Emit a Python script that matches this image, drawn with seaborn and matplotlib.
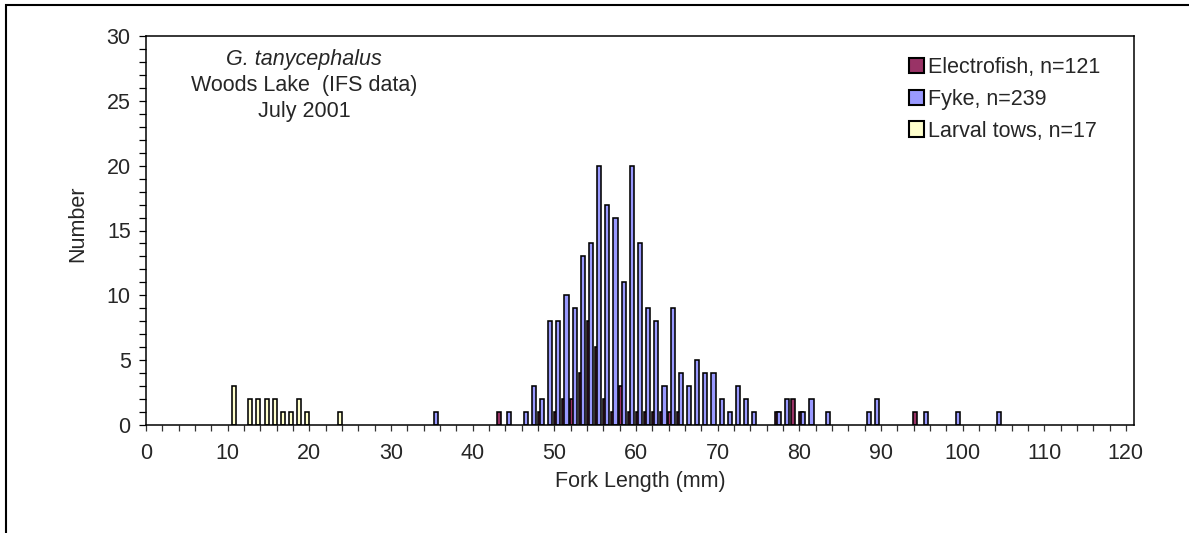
import numpy as np
import pandas as pd
import matplotlib
matplotlib.use("Agg")
import matplotlib.pyplot as plt
import seaborn as sns
from matplotlib.patches import Patch, Rectangle
from matplotlib.ticker import MultipleLocator

# ---------------- data ----------------
electro_len = [43, 48, 50, 51, 52, 53, 54, 55, 56, 57, 58, 59, 60, 61, 62, 63, 64, 65, 77, 79, 80, 94]
electro_cnt = [1, 1, 1, 2, 2, 4, 8, 6, 2, 1, 3, 1, 1, 1, 1, 1, 1, 1, 1, 2, 1, 1]

fyke_len = [35, 44, 46, 47, 48, 49, 50, 51, 52, 53, 54, 55, 56, 57, 58, 59, 60, 61, 62, 63,
            64, 65, 66, 67, 68, 69, 70, 71, 72, 73, 74, 77, 78, 80, 81, 83, 88, 89, 95, 99, 104]
fyke_cnt = [1, 1, 1, 3, 2, 8, 8, 10, 9, 13, 14, 20, 17, 16, 11, 20, 14, 9, 8, 3,
            9, 4, 3, 5, 4, 4, 2, 1, 3, 2, 1, 1, 2, 1, 2, 1, 1, 2, 1, 1, 1]

larval_len = [10, 12, 13, 14, 15, 16, 17, 18, 19, 23]
larval_cnt = [3, 2, 2, 2, 2, 1, 1, 2, 1, 1]

series_names = ["Electrofish, n=121", "Fyke, n=239", "Larval tows, n=17"]
x_ticks = list(range(0, 121, 10))
y_ticks = list(range(0, 31, 5))

# ---------------- style ----------------
sns.set_style("ticks")
plt.rcParams["font.family"] = ["Liberation Sans", "DejaVu Sans"]
FS = 15.5

W, H = 1189, 533
fig = plt.figure(figsize=(W / 100, H / 100), dpi=100)
L, R, T, B = 146, 1134, 36, 425
ax = fig.add_axes([L / W, 1 - B / H, (R - L) / W, (B - T) / H])

colors = ["#993366", "#9999FF", "#FFFFCC"]
offsets = [0.233, 0.5, 0.767]
data_sets = [(electro_len, electro_cnt), (fyke_len, fyke_cnt), (larval_len, larval_cnt)]

for (lens, cnts), col, off in zip(data_sets, colors, offsets):
    df = pd.DataFrame({"pos": np.asarray(lens, dtype=float) + off, "n": cnts})
    sns.barplot(data=df, x="pos", y="n", native_scale=True, width=0.5,
                color=col, saturation=1, edgecolor="black", linewidth=1.15,
                errorbar=None, ax=ax)

ax.set_xlim(0, 121)
ax.set_ylim(0, 30)
ax.set_xlabel("")
ax.set_ylabel("")

ax.xaxis.set_major_locator(plt.FixedLocator(x_ticks))
ax.xaxis.set_minor_locator(MultipleLocator(2))
ax.set_xticklabels([str(v) for v in x_ticks])
ax.yaxis.set_major_locator(plt.FixedLocator(y_ticks))
ax.yaxis.set_minor_locator(MultipleLocator(1))
ax.set_yticklabels([str(v) for v in y_ticks])

ax.tick_params(axis="x", which="both", direction="out", length=4.5, width=0.9,
               color="#333333", labelsize=FS, pad=8.5)
ax.tick_params(axis="y", which="both", direction="out", length=5, width=0.9,
               color="black", labelsize=FS, pad=6)

for sp in ax.spines.values():
    sp.set_visible(True)
    sp.set_color("black")
    sp.set_linewidth(1.1)

# axis titles
fig.text(640 / W, 1 - 481 / H, "Fork Length (mm)", ha="center", va="center", fontsize=FS)
fig.text(78 / W, 1 - 224 / H, "Number", ha="center", va="center", rotation=90, fontsize=FS)

# annotation block
cx = 304 / W
fig.text(cx, 1 - 60 / H, "G. tanycephalus", ha="center", va="center", fontsize=FS, style="italic")
fig.text(cx, 1 - 86 / H, "Woods Lake  (IFS data)", ha="center", va="center", fontsize=FS)
fig.text(cx, 1 - 111 / H, "July 2001", ha="center", va="center", fontsize=FS)

# legend
handles = [Patch(facecolor=c, edgecolor="black", linewidth=1.5) for c in colors]
leg = fig.legend(handles, series_names, loc="upper left",
                 bbox_to_anchor=(909 / W, 1 - 57 / H), bbox_transform=fig.transFigure,
                 frameon=False, fontsize=FS, handlelength=0.7, handleheight=0.7,
                 handletextpad=0.2, labelspacing=0.5, borderpad=0, borderaxespad=0)

# outer chart border
fig.patches.append(Rectangle((5.5 / W, -0.1), 2, 0.1 + (H - 5) / H, transform=fig.transFigure,
                             fill=False, edgecolor="black", linewidth=1.5))

fig.savefig("out.png", dpi=100)
